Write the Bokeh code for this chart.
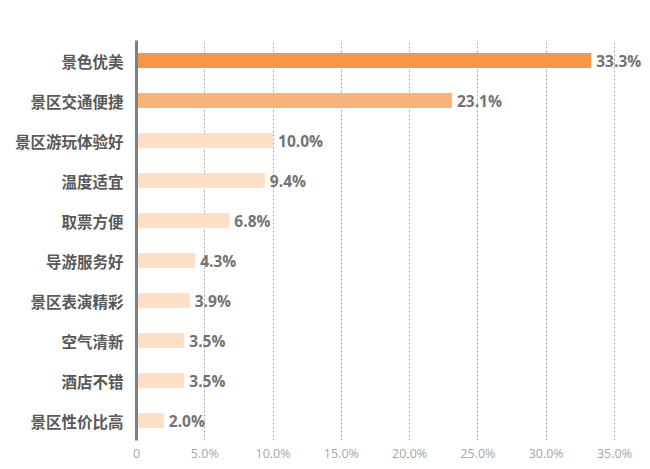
from bokeh.plotting import figure
from bokeh.models import ColumnDataSource, FixedTicker, FactorRange, Range1d
from bokeh.core.properties import value
from bokeh.embed import file_html
from bokeh.resources import INLINE

categories = ["景色优美", "景区交通便捷", "景区游玩体验好", "温度适宜", "取票方便",
              "导游服务好", "景区表演精彩", "空气清新", "酒店不错", "景区性价比高"]
values = [33.3, 23.1, 10.0, 9.4, 6.8, 4.3, 3.9, 3.5, 3.5, 2.0]
bar_colors = ["#F79646", "#FBB37C"] + ["#FDE0C7"] * 8
tick_values = [0, 5, 10, 15, 20, 25, 30, 35]
tick_labels = ["0", "5.0%", "10.0%", "15.0%", "20.0%", "25.0%", "30.0%", "35.0%"]

src = ColumnDataSource(dict(
    cat=categories,
    val=values,
    color=bar_colors,
    label=[f"{v:.1f}%" for v in values],
))

p = figure(
    y_range=FactorRange(factors=categories[::-1], range_padding=0),
    x_range=Range1d(0, 37.2),
    frame_width=508, frame_height=400,
    min_border_left=136, min_border_top=40, min_border_right=0, min_border_bottom=0,
    output_backend="svg", toolbar_location=None,
)
p.outline_line_color = None
p.background_fill_color = "white"

p.hbar(y="cat", left=0, right="val", height=0.37, fill_color="color",
       line_color=None, source=src)
p.text(x="val", y="cat", text="label", x_offset=5, text_baseline="middle",
       text_align="left", text_font=value("Open Sans"), text_font_style="bold",
       text_font_size="15.5px", text_color="#737373", source=src)

# y axis
yax = p.yaxis[0]
yax.axis_line_color = "#7f7f7f"
yax.axis_line_width = 3
yax.major_tick_line_color = None
yax.minor_tick_line_color = None
yax.major_label_standoff = 7
yax.major_label_text_font = "Noto Sans CJK SC"
yax.major_label_text_font_style = "bold"
yax.major_label_text_font_size = "15.5px"
yax.major_label_text_color = "#595959"

# x axis
xax = p.xaxis[0]
xax.ticker = FixedTicker(ticks=tick_values)
xax.major_label_overrides = {t: l for t, l in zip(tick_values, tick_labels)}
xax.axis_line_color = None
xax.major_tick_line_color = None
xax.minor_tick_line_color = None
xax.major_label_standoff = -2
xax.major_label_text_font = "Open Sans"
xax.major_label_text_font_size = "12.5px"
xax.major_label_text_color = "#a6a6a6"

p.ygrid.grid_line_color = None
p.xgrid.grid_line_color = "#a8a8a8"
p.xgrid.grid_line_dash = "2 2"
p.xgrid.grid_line_width = 1

open("out.html", "w").write(file_html(p, INLINE))
